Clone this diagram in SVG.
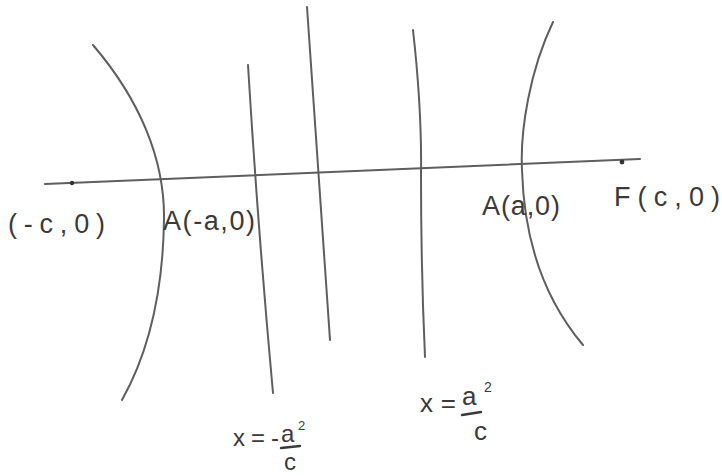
<svg xmlns="http://www.w3.org/2000/svg" width="722" height="476" viewBox="0 0 722 476">
<style>
.c{fill:none;stroke:#5e5e5e;stroke-width:2;stroke-linecap:round}
.t{font-family:"Liberation Sans","DejaVu Sans",sans-serif;fill:#3a3a3a;font-size:27px}
.bar{stroke:#3a3a3a;stroke-width:2.4;stroke-linecap:round}
</style>
<rect width="722" height="476" fill="#ffffff"/>
<g id="axis">
<path class="c" d="M45,184 L640,159"/>
<circle cx="72" cy="183" r="2.2" fill="#333"/>
<circle cx="622" cy="162" r="2.4" fill="#333"/>
</g>
<g id="left-branch"><path class="c" d="M93,45 C140,100 165,160 164,220 C163,290 150,350 122,400"/></g>
<g id="right-branch"><path class="c" d="M553,22 C530,70 520,130 522,170 C524,240 545,300 583,345"/></g>
<g id="line1"><path class="c" d="M248,65 Q258,230 273,393"/></g>
<g id="line2"><path class="c" d="M307,7 Q318,170 330,340"/></g>
<g id="directrix-right"><path class="c" d="M413,30 Q422,110 421,175 Q421,270 425,357"/></g>
<g id="labels">
<text class="t" x="8" y="233" textLength="97" lengthAdjust="spacing">(-c,0)</text>
<text class="t" x="163" y="230" textLength="92" lengthAdjust="spacing">A(-a,0)</text>
<text class="t" x="482" y="215" textLength="78" lengthAdjust="spacing">A(a,0)</text>
<text class="t" x="614" y="206" textLength="106" lengthAdjust="spacing">F(c,0)</text>
</g>
<g id="label-left-directrix">
<text class="t" x="233" y="446" style="font-size:24px" textLength="46" lengthAdjust="spacing">x=-</text>
<text class="t" x="281" y="442" style="font-size:24px">a</text>
<text class="t" x="298" y="430" style="font-size:13px">2</text>
<line class="bar" x1="281" y1="448" x2="300" y2="446"/>
<text class="t" x="284" y="470" style="font-size:24px">c</text>
</g>
<g id="label-right-directrix">
<text class="t" x="420" y="412" style="font-size:26px" textLength="36" lengthAdjust="spacing">x=</text>
<text class="t" x="462" y="405" style="font-size:26px">a</text>
<text class="t" x="484" y="392" style="font-size:14px">2</text>
<line class="bar" x1="462" y1="415" x2="481" y2="412"/>
<text class="t" x="474" y="440" style="font-size:26px">c</text>
</g>
</svg>
